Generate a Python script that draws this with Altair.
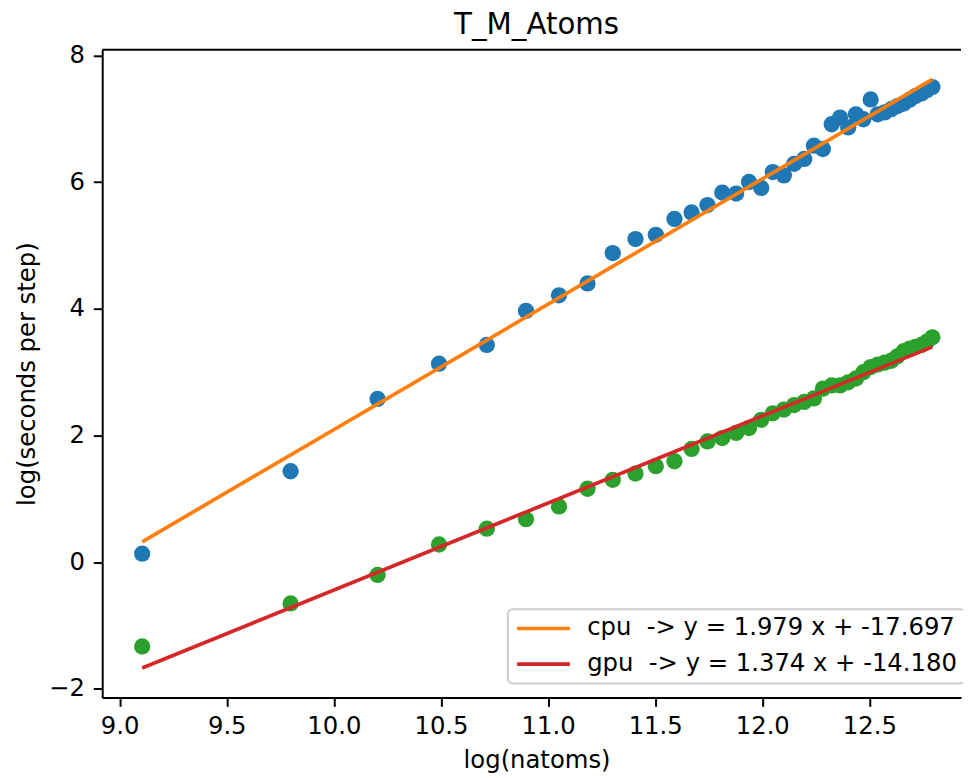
import altair as alt
import pandas as pd

# ---- data ----
log_natoms = [9.105, 9.798, 10.204, 10.491, 10.714, 10.897, 11.051, 11.184, 11.302, 11.408,
              11.503, 11.590, 11.670, 11.744, 11.813, 11.878, 11.938, 11.995, 12.049, 12.101,
              12.149, 12.196, 12.241, 12.283, 12.324, 12.363, 12.401, 12.437, 12.472, 12.506,
              12.539, 12.571, 12.602, 12.631, 12.660, 12.688, 12.716, 12.743, 12.768, 12.794]
cpu_log_sps = [0.135, 1.436, 2.577, 3.134, 3.43, 3.967, 4.213, 4.40, 4.88, 5.10,
               5.167, 5.418, 5.521, 5.637, 5.834, 5.818, 6.001, 5.907, 6.158, 6.106,
               6.288, 6.366, 6.575, 6.522, 6.913, 7.018, 6.862, 7.070, 6.992, 7.304,
               7.07, 7.10, 7.15, 7.20, 7.24, 7.30, 7.36, 7.40, 7.45, 7.50]
gpu_log_sps = [-1.33, -0.65, -0.20, 0.28, 0.53, 0.68, 0.88, 1.16, 1.30, 1.40,
               1.516, 1.594, 1.788, 1.907, 1.96, 2.04, 2.117, 2.247, 2.35, 2.41,
               2.48, 2.53, 2.586, 2.74, 2.79, 2.79, 2.84, 2.90, 3.00, 3.08,
               3.12, 3.15, 3.18, 3.25, 3.33, 3.37, 3.40, 3.43, 3.48, 3.55]
series = ["cpu", "gpu"]
fit_slope = [1.979, 1.374]
fit_intercept = [-17.697, -14.180]
fit_labels = ["cpu \u00a0-> y = 1.979 x + -17.697", "gpu \u00a0-> y = 1.374 x + -14.180"]
point_colors = ["#1f77b4", "#2ca02c"]
line_colors = ["#ff7f0e", "#d62728"]
x_ticks = [9.0, 9.5, 10.0, 10.5, 11.0, 11.5, 12.0, 12.5]
y_ticks = [-2, 0, 2, 4, 6, 8]

# ---- tables ----
pts = pd.DataFrame({
    "x": log_natoms + log_natoms,
    "y": cpu_log_sps + gpu_log_sps,
    "series": ["cpu"] * len(log_natoms) + ["gpu"] * len(log_natoms),
})
fit_rows = []
for s, m, b, lab in zip(series, fit_slope, fit_intercept, fit_labels):
    for xv in (min(log_natoms), max(log_natoms)):
        fit_rows.append({"x": xv, "y": m * xv + b, "label": lab, "series": s})
fit = pd.DataFrame(fit_rows)

W, H = 866, 653
FONT = "DejaVu Sans"
xscale = alt.Scale(domain=[8.9185, 12.9278], nice=False, zero=False)
yscale = alt.Scale(domain=[-2.134, 8.087], nice=False, zero=False)

xaxis = alt.Axis(values=x_ticks, format=".1f", title="log(natoms)", labelPadding=8,
                 titleX=438, titleY=71, titleAlign="center", titleBaseline="alphabetic",
                 labelOverlap=False, labelFlush=False)
yaxis = alt.Axis(values=y_ticks, format="d", title="log(seconds per step)", labelPadding=9,
                 labelExpr="replace(datum.label, '-', '\u2212')",
                 titleAngle=270, titleX=-68, titleY=326.5, titleAlign="center",
                 titleBaseline="alphabetic", labelOverlap=False)

points = alt.Chart(pts).mark_circle(size=270, opacity=1).encode(
    x=alt.X("x:Q", scale=xscale, axis=xaxis),
    y=alt.Y("y:Q", scale=yscale, axis=yaxis),
    color=alt.Color("series:N", scale=alt.Scale(domain=series, range=point_colors), legend=None),
)

lines = alt.Chart(fit).mark_line(strokeWidth=3.7).encode(
    x=alt.X("x:Q", scale=xscale),
    y=alt.Y("y:Q", scale=yscale),
    stroke=alt.Stroke(
        "label:N",
        scale=alt.Scale(domain=fit_labels, range=line_colors),
        legend=alt.Legend(
            orient="none", legendX=409, legendY=564, title=None, direction="vertical",
            symbolType="stroke", symbolSize=2841, symbolStrokeWidth=3.7,
            labelFontSize=24.5, labelFont=FONT, labelColor="black", labelLimit=600,
            padding=7, labelOffset=15, rowPadding=10, clipHeight=25,
            cornerRadius=5, strokeColor="#cccccc", fillColor="rgba(255,255,255,0.8)",
        ),
    ),
)

frame_top = alt.Chart(pd.DataFrame({"edge": ["top"]})).mark_rule(color="black", strokeWidth=2).encode(
    x=alt.value(0), x2=alt.value(W), y=alt.value(0)
)

chart = alt.layer(points, lines, frame_top).properties(
    width=W, height=H,
    title=alt.TitleParams("T_M_Atoms", font=FONT, fontSize=29.5, fontWeight="normal", color="black",
                          anchor="middle", dx=5, dy=30, offset=9, baseline="alphabetic"),
    autosize=alt.AutoSizeParams(type="none"),
    padding={"left": 95, "top": 39, "right": 2, "bottom": 73},
).configure_view(stroke=None).configure_axis(
    domainColor="black", domainWidth=2, tickColor="black", tickWidth=2, tickSize=9,
    labelFont=FONT, labelFontSize=24.5, labelColor="black",
    titleFont=FONT, titleFontSize=24.5, titleFontWeight="normal", titleColor="black",
    grid=False,
).configure_legend(strokeWidth=2)

chart.save("out.html", embed_options={"renderer": "svg", "actions": False})
